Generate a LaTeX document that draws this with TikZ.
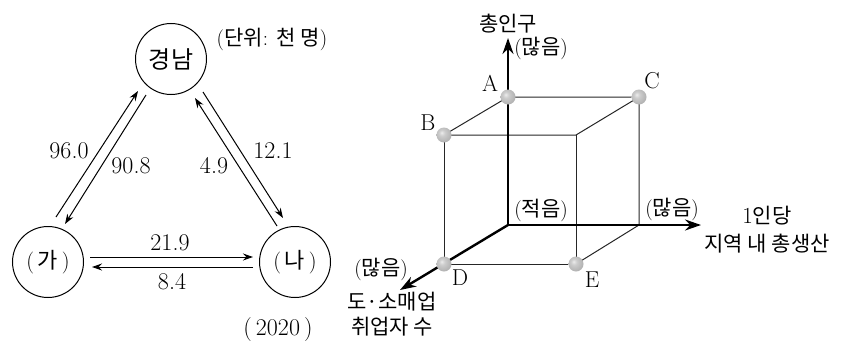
\documentclass[tikz,border=0pt]{standalone}
\usepackage{fontspec}
\newfontfamily\kr{Noto Sans CJK KR}
\usetikzlibrary{arrows.meta,backgrounds}
\pgfdeclareradialshading{sph}{\pgfpoint{-8bp}{8bp}}{color(0bp)=(gray!15); color(10bp)=(gray!40); color(28bp)=(gray!60); color(45bp)=(gray!75); color(70bp)=(gray!75)}
\begin{document}
\begin{tikzpicture}[x=1pt,y=-1pt,
  city/.style={draw, circle, line width=1pt, minimum size=71pt, inner sep=0pt},
  num/.style={font=\fontsize{24}{28}\selectfont\addfontfeature{LetterSpace=12}, inner sep=0pt},
  krl/.style={font=\fontsize{21}{24}\selectfont, inner sep=0pt},
  letter/.style={font=\fontsize{23}{27}\selectfont, inner sep=0pt},
  arr/.style={line width=1pt, -{Stealth[length=10pt,width=7pt]}},
  axisline/.style={line width=2.4pt, -{Stealth[length=16pt,width=11pt]}},
  cubeedge/.style={line width=1pt, black!85},
  ball/.style={circle, inner sep=0pt, minimum size=15pt, shading=sph}]
\useasboundingbox (0,0) rectangle (856,340);

% ---------- left: flows ----------
\node[city, font=\fontsize{24}{28}\selectfont] (gn) at (171,59) {\kr 경남};
\node[city, font=\fontsize{22}{26}\selectfont] (ga) at (48,262) {(\,{\kr 가}\,)};
\node[city, font=\fontsize{22}{26}\selectfont] (na) at (295,262) {(\,{\kr 나}\,)};

\draw[arr] ([shift={(8,-45)}]ga.center) -- ([shift={(-33,32)}]gn.center);
\draw[arr] ([shift={(-25,36)}]gn.center) -- ([shift={(17,-38)}]ga.center);
\draw[arr] ([shift={(32,33)}]gn.center) -- ([shift={(-12,-44)}]na.center);
\draw[arr] ([shift={(-18,-36)}]na.center) -- ([shift={(24,39)}]gn.center);
\draw[arr] ([shift={(42,-5)}]ga.center) -- ([shift={(-42,-5)}]na.center);
\draw[arr] ([shift={(-42,5)}]na.center) -- ([shift={(44,5)}]ga.center);

\node[num] (v1) at (69,151) {96.0};
\node[num] (v2) at (131,166) {90.8};
\node[num] (v3) at (214,166) {4.9};
\node[num] (v4) at (273,151) {12.1};
\node[num] (v5) at (170,243) {21.9};
\node[num] (v6) at (172,282) {8.4};
\node[krl] (unit) at (272,39) {({\kr 단위}: {\kr 천 명})};
\node[num] (year) at (278,330) {(\,2020\,)};

% ---------- right: cube ----------
\coordinate (O) at (508,225);
\coordinate (F) at (576,135);
\coordinate (G) at (639,225);
\coordinate (Ytip) at (508,38);
\coordinate (Xtip) at (701,225);
\coordinate (Ztip) at (400,290);

\node[ball] (A) at (508,97) {};
\node[ball] (B) at (444,135) {};
\node[ball] (C) at (639,97) {};
\node[ball] (D) at (444,264) {};
\node[ball] (E) at (576,264) {};

\begin{scope}[on background layer]
\draw[cubeedge] (A.center) -- (B.center) -- (F) -- (C.center) -- cycle;
\draw[cubeedge] (B.center) -- (D.center) -- (E.center) -- (F);
\draw[cubeedge] (E.center) -- (G) -- (C.center);
\draw[axisline] (O) -- (Ytip);
\draw[axisline] (O) -- (Xtip);
\draw[axisline] (O) -- (Ztip);
\end{scope}

\node[letter] (la) at (490,83) {A};
\node[letter] (lb) at (428,123) {B};
\node[letter] (lc) at (652,81) {C};
\node[letter] (ld) at (460,278) {D};
\node[letter] (le) at (592,280) {E};

\node[krl] (ty) at (508,24) {\kr 총인구};
\node[krl] (ty2) at (541,48) {({\kr 많음})};
\node[krl] (lo) at (541,210) {({\kr 적음})};
\node[krl] (tx2) at (672,209) {({\kr 많음})};
\node[krl] (tx) at (767,216) {{\fontsize{23}{27}\selectfont 1}{\kr 인당}};
\node[krl] (tx3) at (767,244) {\kr 지역 내 총생산};
\node[krl] (tz2) at (381,269) {({\kr 많음})};
\node[krl] (tz) at (392,302) {\kr 도·소매업};
\node[krl] (tz3) at (392,327) {\kr 취업자 수};
\end{tikzpicture}
\end{document}
